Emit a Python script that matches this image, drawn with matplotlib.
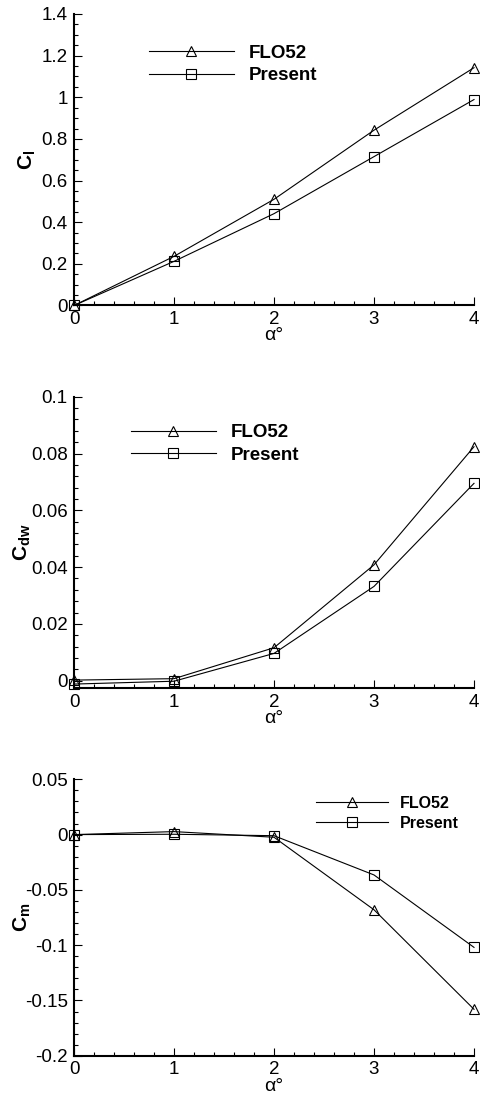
import matplotlib

matplotlib.use("Agg")
import matplotlib.pyplot as plt
from matplotlib.ticker import FuncFormatter, MultipleLocator

plt.rcParams["font.family"] = ["Liberation Sans", "DejaVu Sans"]
plt.rcParams["mathtext.fontset"] = "custom"
plt.rcParams["mathtext.rm"] = "Liberation Sans"
plt.rcParams["mathtext.bf"] = "Liberation Sans:bold"

# angle of attack [deg]
alpha = [0, 1, 2, 3, 4]

# lift coefficient
cl_flo52 = [0.0, 0.236, 0.51, 0.842, 1.142]
cl_present = [0.0, 0.212, 0.441, 0.715, 0.989]

# wave drag coefficient
cdw_flo52 = [0.0002, 0.0007, 0.0116, 0.0408, 0.0824]
cdw_present = [-0.0012, -0.0002, 0.0096, 0.0332, 0.0695]

# moment coefficient
cm_flo52 = [0.0, 0.0027, -0.0024, -0.068, -0.158]
cm_present = [0.0, 0.0003, -0.001, -0.0365, -0.102]

series_labels = ["FLO52", "Present"]


def _fmt(v, _pos):
    v = round(v, 6) + 0.0
    return f"{v:g}"


def _style_axes(ax, ylim, ymajor, yminor, ylabel, label_x):
    ax.set_xlim(0, 4)
    ax.set_ylim(*ylim)
    ax.xaxis.set_major_locator(MultipleLocator(1))
    ax.xaxis.set_minor_locator(MultipleLocator(0.2))
    ax.yaxis.set_major_locator(MultipleLocator(ymajor))
    ax.yaxis.set_minor_locator(MultipleLocator(yminor))
    ax.yaxis.set_major_formatter(FuncFormatter(_fmt))
    ax.xaxis.set_major_formatter(FuncFormatter(_fmt))
    for side in ("top", "right"):
        ax.spines[side].set_visible(False)
    for side in ("left", "bottom"):
        ax.spines[side].set_linewidth(1.5)
    ax.tick_params(which="both", direction="in", width=0.8, labelsize=13.5)
    ax.tick_params(which="major", length=5.5)
    ax.tick_params(which="minor", length=3)
    ax.tick_params(axis="y", pad=4.5)
    ax.tick_params(axis="x", pad=4)
    ax.set_xlabel("α°", fontsize=14, labelpad=-0.5)
    ax.set_ylabel(ylabel, fontsize=15)
    ax.yaxis.set_label_coords(label_x, 0.5)


def _plot_pair(ax, y_flo, y_pres):
    kw = dict(color="black", linewidth=0.8, markersize=7.5, markeredgewidth=0.8,
              fillstyle="none", clip_on=False)
    ax.plot(alpha, y_flo, marker="^", label=series_labels[0], **kw)
    ax.plot(alpha, y_pres, marker="s", label=series_labels[1], **dict(kw, markersize=6.5))


fig = plt.figure(figsize=(4.8, 10.93), dpi=100)
ax1 = fig.add_axes([0.1542, 0.7205, 0.8333, 0.2667])
ax2 = fig.add_axes([0.1542, 0.3705, 0.8333, 0.2665])
ax3 = fig.add_axes([0.1542, 0.0341, 0.8333, 0.2529])

_plot_pair(ax1, cl_flo52, cl_present)
_style_axes(ax1, (0, 1.4), 0.2, 0.05, r"$\mathbf{C_l}$", -0.09)
ax1.legend(loc="upper left", bbox_to_anchor=(0.1875, 0.8957), frameon=False,
           borderpad=0, borderaxespad=0, handlelength=4.53, handletextpad=0.8,
           labelspacing=0.3, prop={"weight": "bold", "size": 13.5})

_plot_pair(ax2, cdw_flo52, cdw_present)
_style_axes(ax2, (-0.0026, 0.1), 0.02, 0.004, r"$\mathbf{C_{dw}}$", -0.1025)
ax2.legend(loc="upper left", bbox_to_anchor=(0.1425, 0.906), frameon=False,
           borderpad=0, borderaxespad=0, handlelength=4.53, handletextpad=0.8,
           labelspacing=0.3, prop={"weight": "bold", "size": 13.5})

_plot_pair(ax3, cm_flo52, cm_present)
_style_axes(ax3, (-0.2, 0.05), 0.05, 0.01, r"$\mathbf{C_m}$", -0.1025)
ax3.legend(loc="upper left", bbox_to_anchor=(0.605, 0.941), frameon=False,
           borderpad=0, borderaxespad=0, handlelength=4.5, handletextpad=0.75,
           labelspacing=0.34, prop={"weight": "bold", "size": 11.5})

fig.savefig("out.png", dpi=100)
